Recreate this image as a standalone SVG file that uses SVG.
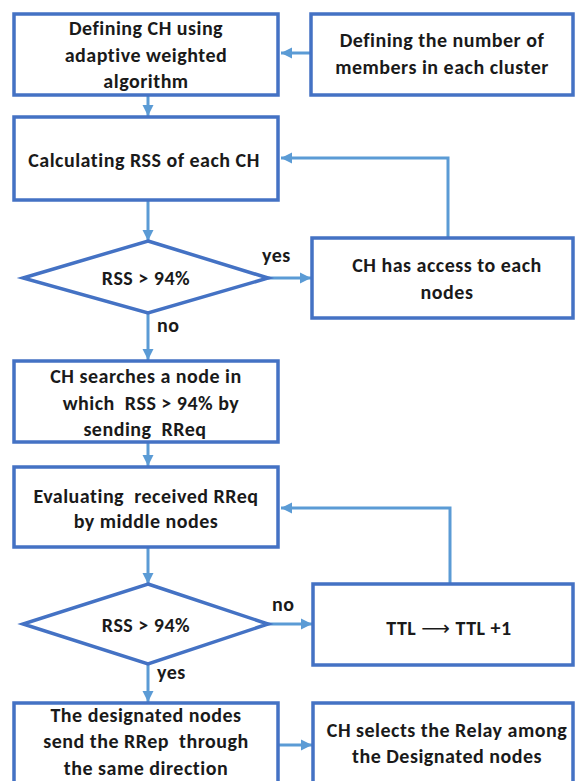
<svg xmlns="http://www.w3.org/2000/svg" width="575" height="781" viewBox="0 0 575 781">
<defs>
<style>
.box{fill:#fff;stroke:#4472C4;stroke-width:3.5}
.con{fill:none;stroke:#5B9BD5;stroke-width:3}
.t{font-family:Carlito,Lato,"Liberation Sans",sans-serif;font-weight:bold;font-size:20px;letter-spacing:0.5px;fill:#1a1a1a;text-anchor:middle}
.lbl{font-family:Carlito,Lato,"Liberation Sans",sans-serif;font-weight:bold;font-size:20px;letter-spacing:0.5px;fill:#1a1a1a}
</style>
<marker id="ah" markerUnits="userSpaceOnUse" markerWidth="12" markerHeight="12" viewBox="0 0 12 12" refX="11" refY="6" orient="auto">
<path d="M0,0.5 L11,6 L0,11.5 Z" fill="#5B9BD5"/>
</marker>
</defs>
<rect width="575" height="781" fill="#fff"/>
<g id="connectors">
<line class="con" x1="311" y1="53" x2="281" y2="53" marker-end="url(#ah)"/>
<line class="con" x1="148" y1="96" x2="148" y2="116" marker-end="url(#ah)"/>
<polyline class="con" points="448,237 448,158 281,158" marker-end="url(#ah)"/>
<line class="con" x1="148" y1="201" x2="148" y2="241" marker-end="url(#ah)"/>
<line class="con" x1="268" y1="278" x2="311" y2="278" marker-end="url(#ah)"/>
<line class="con" x1="148" y1="313" x2="148" y2="360" marker-end="url(#ah)"/>
<line class="con" x1="148" y1="443" x2="148" y2="466" marker-end="url(#ah)"/>
<line class="con" x1="148" y1="548" x2="148" y2="584" marker-end="url(#ah)"/>
<polyline class="con" points="450,583 450,508 281,508" marker-end="url(#ah)"/>
<line class="con" x1="268" y1="624" x2="312" y2="624" marker-end="url(#ah)"/>
<line class="con" x1="148" y1="664" x2="148" y2="702" marker-end="url(#ah)"/>
<line class="con" x1="279" y1="745" x2="312" y2="745" marker-end="url(#ah)"/>
<text class="lbl" x="262" y="262">yes</text>
<text class="lbl" x="157" y="332">no</text>
<text class="lbl" x="272" y="611">no</text>
<text class="lbl" x="157" y="679">yes</text>
</g>
<g id="n1">
<rect class="box" x="14" y="14" width="264" height="81"/>
<text class="t" x="146" y="35">Defining CH using</text>
<text class="t" x="146" y="61.5">adaptive weighted</text>
<text class="t" x="146" y="88">algorithm</text>
</g>
<g id="n2">
<rect class="box" x="311" y="14" width="262" height="81"/>
<text class="t" x="442" y="47">Defining the number of</text>
<text class="t" x="442" y="74">members in each cluster</text>
</g>
<g id="n3">
<rect class="box" x="14" y="117" width="264" height="83"/>
<text class="t" x="144" y="167">Calculating RSS of each CH</text>
</g>
<g id="d1">
<polygon class="box" points="148,241 268,278 148,313 23,278"/>
<text class="t" x="146" y="285">RSS &gt; 94%</text>
</g>
<g id="n4">
<rect class="box" x="312" y="238" width="261" height="80"/>
<text class="t" x="447" y="272">CH has access to each</text>
<text class="t" x="447" y="299">nodes</text>
</g>
<g id="n5">
<rect class="box" x="14" y="361" width="264" height="81"/>
<text class="t" x="146" y="383">CH searches a node in</text>
<text class="t" x="151" y="410" xml:space="preserve">which  RSS &gt; 94% by</text>
<text class="t" x="145" y="436" xml:space="preserve">sending  RReq</text>
</g>
<g id="n6">
<rect class="box" x="14" y="467" width="264" height="80"/>
<text class="t" x="146" y="503" xml:space="preserve">Evaluating  received RReq</text>
<text class="t" x="146" y="528">by middle nodes</text>
</g>
<g id="d2">
<polygon class="box" points="148,584 268,624 148,664 23,624"/>
<text class="t" x="146" y="632">RSS &gt; 94%</text>
</g>
<g id="n7">
<rect class="box" x="313" y="584" width="260" height="81"/>
<text class="t" x="449" y="635">TTL <tspan font-family="'DejaVu Sans',sans-serif" font-weight="normal">⟶</tspan> TTL +1</text>
</g>
<g id="n8">
<rect class="box" x="14" y="703" width="264" height="90"/>
<text class="t" x="146" y="722">The designated nodes</text>
<text class="t" x="146" y="748" xml:space="preserve">send the RRep  through</text>
<text class="t" x="146" y="775">the same direction</text>
</g>
<g id="n9">
<rect class="box" x="313" y="703" width="260" height="90"/>
<text class="t" x="447" y="737">CH selects the Relay among</text>
<text class="t" x="447" y="763">the Designated nodes</text>
</g>
</svg>
